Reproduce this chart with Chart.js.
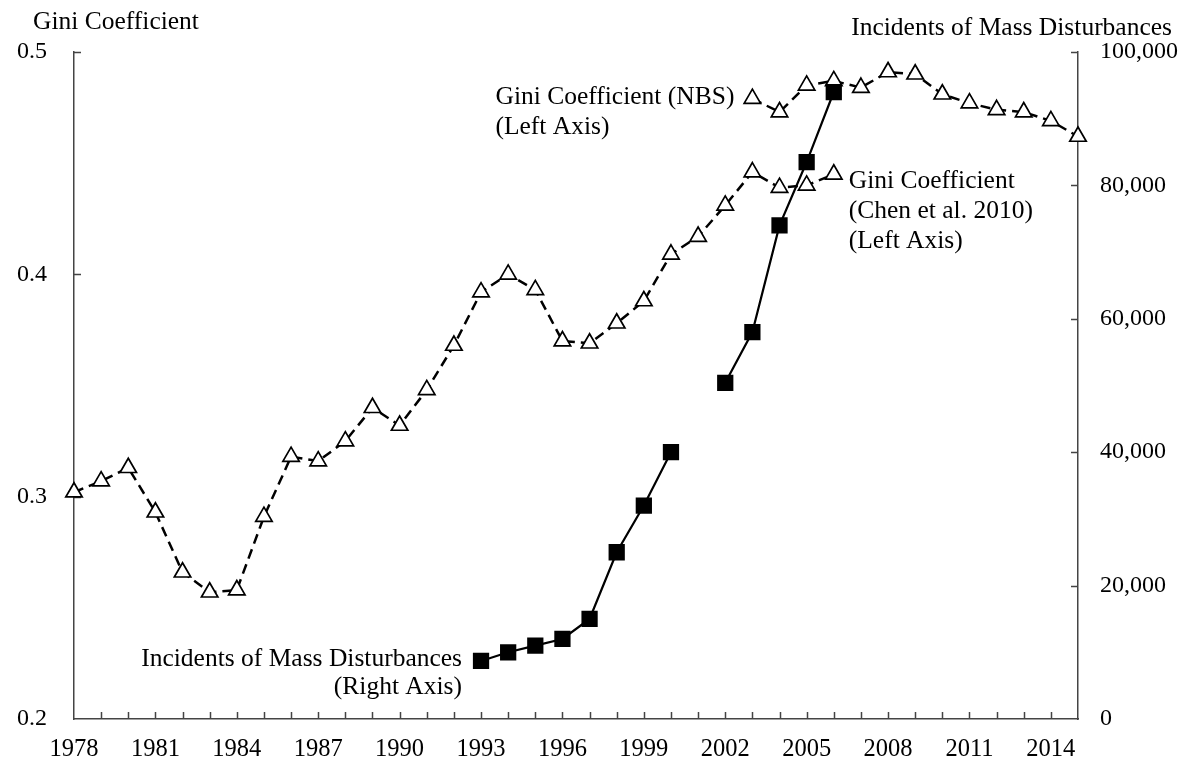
<!DOCTYPE html>
<html>
<head>
<meta charset="utf-8">
<script src="https://cdn.jsdelivr.net/npm/chart.js@4/dist/chart.umd.min.js"></script>
<style>
  html, body { margin: 0; padding: 0; background: #fff; }
  #wrap { width: 1186px; height: 764px; position: relative; }
</style>
</head>
<body>
<div id="wrap"><canvas id="chart"></canvas></div>
<script>
// --- data ---
const years = [];
for (let y = 1978; y <= 2015; y++) years.push(y);

// Gini coefficient, Chen et al. 2010 (1978-2006)
const giniChen = [
  0.302, 0.307, 0.313, 0.293, 0.266, 0.257, 0.258, 0.291, 0.318, 0.316,
  0.325, 0.340, 0.332, 0.348, 0.368, 0.392, 0.400, 0.393, 0.370, 0.369,
  0.378, 0.388, 0.409, 0.417, 0.431, 0.446, 0.439, 0.440, 0.445,
  null, null, null, null, null, null, null, null, null
];

// Gini coefficient, NBS (2003-2015)
const giniNBS = [
  null, null, null, null, null, null, null, null, null, null,
  null, null, null, null, null, null, null, null, null, null,
  null, null, null, null, null,
  0.479, 0.473, 0.485, 0.487, 0.484, 0.491, 0.490, 0.481, 0.477, 0.474,
  0.473, 0.469, 0.462
];

// Incidents of mass disturbances (right axis)
const disturbances = [
  null, null, null, null, null, null, null, null, null, null,
  null, null, null, null, null,
  8700, 10000, 11000, 12000, 15000, 25000, 32000, 40000, null,
  50400, 58000, 74000, 83500, 94000,
  null, null, null, null, null, null, null, null, null
];

const leftTicks = [0.2, 0.3, 0.4, 0.5];
const rightTicks = [0, 20000, 40000, 60000, 80000, 100000];
const labelEvery = 3;

const FONT = '"Liberation Serif", "Times New Roman", serif';
const AXIS_COLOR = '#444';

// short tick marks pointing into the plot
const inwardTicks = {
  id: 'inwardTicks',
  beforeDatasetsDraw(chart) {
    const { ctx, chartArea: a } = chart;
    const x = chart.scales.x, yL = chart.scales.yL, yR = chart.scales.yR;
    const len = 7;
    ctx.save();
    ctx.strokeStyle = AXIS_COLOR;
    ctx.lineWidth = 1.5;
    ctx.beginPath();
    for (let i = 1; i < x.ticks.length - 1; i++) {
      const px = Math.round(x.getPixelForTick(i)) + 0.5;
      ctx.moveTo(px, a.bottom);
      ctx.lineTo(px, a.bottom - len);
    }
    yL.ticks.forEach(t => {
      if (t.value === yL.min) return;
      const py = Math.round(yL.getPixelForValue(t.value)) + 0.5;
      ctx.moveTo(a.left, py);
      ctx.lineTo(a.left + len, py);
    });
    yR.ticks.forEach(t => {
      if (t.value === yR.min) return;
      const py = Math.round(yR.getPixelForValue(t.value)) + 0.5;
      ctx.moveTo(a.right, py);
      ctx.lineTo(a.right - len, py);
    });
    ctx.stroke();
    ctx.restore();
  }
};

// axis titles and the in-plot series labels
const labels = {
  id: 'labels',
  afterDraw(chart) {
    const { ctx, chartArea: a } = chart;
    const x = chart.scales.x, yL = chart.scales.yL, yR = chart.scales.yR;
    ctx.save();
    ctx.font = '25.5px ' + FONT;
    ctx.fillStyle = '#000';
    ctx.textBaseline = 'middle';

    ctx.textAlign = 'left';
    ctx.fillText('Gini Coefficient', a.left - 41, 22);
    ctx.textAlign = 'right';
    ctx.fillText('Incidents of Mass Disturbances', a.right + 94, 28);

    // NBS label, left of the 2003 point
    let i = years.indexOf(2003);
    let px = x.getPixelForValue(i), py = yL.getPixelForValue(giniNBS[i]);
    const l1 = 'Gini Coefficient (NBS)';
    const left = px - 18 - ctx.measureText(l1).width;
    ctx.textAlign = 'left';
    ctx.fillText(l1, left, py - 1);
    ctx.fillText('(Left Axis)', left, py + 29);

    // Chen label, right of the 2006 point
    i = years.indexOf(2006);
    px = x.getPixelForValue(i); py = yL.getPixelForValue(giniChen[i]);
    ctx.fillText('Gini Coefficient', px + 15, py + 7);
    ctx.fillText('(Chen et al. 2010)', px + 15, py + 37);
    ctx.fillText('(Left Axis)', px + 15, py + 67);

    // disturbances label, left of the 1993 point
    i = years.indexOf(1993);
    px = x.getPixelForValue(i); py = yR.getPixelForValue(disturbances[i]);
    ctx.textAlign = 'right';
    ctx.fillText('Incidents of Mass Disturbances', px - 19, py - 2);
    ctx.fillText('(Right Axis)', px - 19, py + 26);
    ctx.restore();
  }
};

const ctx = document.getElementById('chart').getContext('2d');
new Chart(ctx, {
  type: 'line',
  data: {
    labels: years,
    datasets: [
      {
        label: 'Incidents of Mass Disturbances',
        data: disturbances,
        yAxisID: 'yR',
        borderColor: '#000',
        borderWidth: 2.2,
        pointStyle: 'rect',
        pointRadius: 11.5,
        pointBackgroundColor: '#000',
        pointBorderColor: '#000',
        pointBorderWidth: 0,
        spanGaps: false,
        tension: 0
      },
      {
        label: 'Gini Coefficient (NBS)',
        data: giniNBS,
        yAxisID: 'yL',
        borderColor: '#000',
        borderWidth: 2.5,
        borderDash: [10, 6],
        pointStyle: 'triangle',
        pointRadius: 9.5,
        pointBackgroundColor: '#fff',
        pointBorderColor: '#000',
        pointBorderWidth: 1.7,
        tension: 0
      },
      {
        label: 'Gini Coefficient (Chen et al. 2010)',
        data: giniChen,
        yAxisID: 'yL',
        borderColor: '#000',
        borderWidth: 2.5,
        borderDash: [10, 6],
        pointStyle: 'triangle',
        pointRadius: 9.5,
        pointBackgroundColor: '#fff',
        pointBorderColor: '#000',
        pointBorderWidth: 1.7,
        tension: 0
      }
    ]
  },
  options: {
    responsive: true,
    maintainAspectRatio: false,
    animation: false,
    layout: { padding: { top: 52, left: 0, right: 0, bottom: 0 } },
    plugins: {
      legend: { display: false },
      tooltip: { enabled: false }
    },
    scales: {
      x: {
        type: 'category',
        offset: false,
        grid: { display: false, drawTicks: false },
        border: { display: true, color: AXIS_COLOR, width: 1.5 },
        ticks: {
          autoSkip: false,
          maxRotation: 0,
          padding: 16,
          color: '#000',
          font: { family: FONT, size: 24.5 },
          callback: (v, i) => (i % labelEvery === 0 ? String(years[i]) : '')
        },
        afterFit: s => { s.height = 45; }
      },
      yL: {
        type: 'linear',
        position: 'left',
        min: leftTicks[0],
        max: leftTicks[leftTicks.length - 1],
        grid: { display: false, drawTicks: false },
        border: { display: true, color: AXIS_COLOR, width: 1.5 },
        ticks: {
          stepSize: 0.1,
          padding: 27,
          color: '#000',
          font: { family: FONT, size: 24 },
          callback: v => (leftTicks.some(t => Math.abs(t - v) < 1e-9) ? v.toFixed(1) : '')
        },
        afterFit: s => { s.width = 74; }
      },
      yR: {
        type: 'linear',
        position: 'right',
        min: rightTicks[0],
        max: rightTicks[rightTicks.length - 1],
        grid: { display: false, drawTicks: false },
        border: { display: true, color: AXIS_COLOR, width: 1.5 },
        ticks: {
          stepSize: 20000,
          padding: 22,
          color: '#000',
          font: { family: FONT, size: 24 },
          callback: v => v.toLocaleString('en-US')
        },
        afterFit: s => { s.width = 108; }
      }
    }
  },
  plugins: [inwardTicks, labels]
});
</script>
</body>
</html>
